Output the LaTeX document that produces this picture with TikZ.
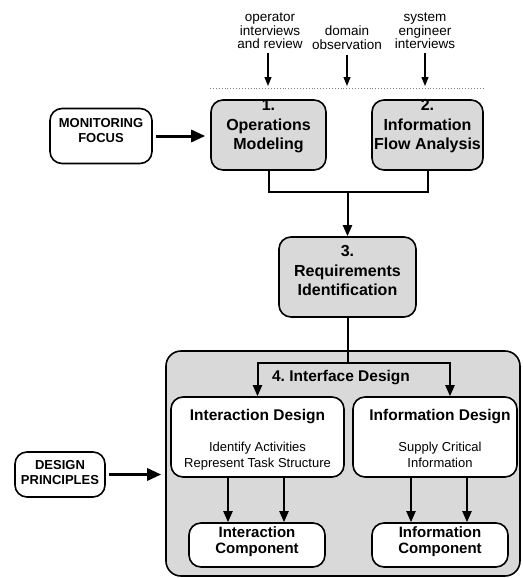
\documentclass[tikz,border=0pt]{standalone}
\usepackage{fontspec}
\setmainfont{Liberation Sans}
\usetikzlibrary{arrows.meta,calc}
\frenchspacing
\begin{document}
\begin{tikzpicture}[x=1pt,y=-1pt,
  box/.style={draw, line width=1.6pt, rounded corners=12pt, inner sep=0pt},
  graybox/.style={box, fill=gray!30},
  whitebox/.style={box, fill=white},
  gtext/.style={align=center, inner sep=0pt, font=\bfseries\fontsize{16}{19.5}\selectfont},
  ttext/.style={align=center, inner sep=0pt, font=\bfseries\fontsize{15.5}{18}\selectfont},
  stext/.style={align=center, inner sep=0pt, font=\fontsize{13}{15.5}\selectfont},
  ctext/.style={align=center, inner sep=0pt, font=\bfseries\fontsize{15}{16.5}\selectfont},
  sidetext/.style={align=center, inner sep=0pt, font=\bfseries\fontsize{13}{15}\selectfont},
  lab/.style={align=center, inner sep=0pt, font=\fontsize{13.5}{13.7}\selectfont},
  inarrow/.style={line width=1.1pt, -{Triangle[length=9pt,width=7pt]}},
  arr/.style={line width=2pt, -{Triangle[length=11pt,width=9pt]}},
  bigarr/.style={line width=3pt, -{Triangle[length=14pt,width=12pt]}},
  conn/.style={line width=2pt}
]
\useasboundingbox (0,0) rectangle (522,578);

% top input labels
\node[lab] (l1) at (270,31) {operator\\interviews\\and review};
\node[lab] (l2) at (347,37.5) {domain\\observation};
\node[lab] (l3) at (425,31) {system\\engineer\\interviews};
\coordinate (dl) at (210,88);
\coordinate (dr) at (483,88);
\draw[gray, dotted, line width=0.9pt] (dl) -- (dr);
\coordinate (d1) at (268,86);
\coordinate (d2) at (347,86);
\coordinate (d3) at (425,86);
\draw[inarrow] (d1 |- l1.south) ++(0,4) -- (d1);
\draw[inarrow] (d2 |- l2.south) ++(0,5) -- (d2);
\draw[inarrow] (d3 |- l3.south) ++(0,4) -- (d3);

% row 1
\node[whitebox, minimum width=102, minimum height=55] (mon) at (101,136) {};
\node[sidetext] (monT) at (101,130.5) {MONITORING\\FOCUS};
\node[graybox, minimum width=115, minimum height=70] (b1) at (268.5,135) {};
\node[gtext] (b1T) at (268.5,126.5) {1.\\Operations\\Modeling};
\node[graybox, minimum width=111, minimum height=70] (b2) at (427.5,135) {};
\node[gtext] (b2T) at (427.5,126.5) {2.\\Information\\Flow Analysis};
\draw[bigarr, shorten <=3pt, shorten >=5pt] (mon.east) -- (mon.east -| b1.west);

% requirements
\node[graybox, minimum width=137, minimum height=80] (b3) at (347.5,277) {};
\node[gtext] (b3T) at (347.5,270.5) {3.\\Requirements\\Identification};
\coordinate (j) at (347.5,192);
\draw[conn] (b1.south) |- (j) -| (b2.south);
\draw[arr] (j) -- (b3.north);

% interface design
\node[graybox, rounded corners=15pt, minimum width=354, minimum height=225] (big) at (343,463.5) {};
\node[ttext] (bigT) at (341,378) {4. Interface Design};
\node[whitebox, minimum width=173, minimum height=80] (intd) at (257.5,437) {};
\node[ttext] (intdT) at (257.5,417) {Interaction Design};
\node[stext] (intdS) at (257.5,456) {Identify Activities\\Represent Task Structure};
\node[whitebox, minimum width=164, minimum height=80] (infd) at (435,437) {};
\node[ttext] (infdT) at (440,417) {Information Design};
\node[stext] (infdS) at (440,455) {Supply Critical\\Information};
\node[whitebox, minimum width=136, minimum height=44] (icomp) at (257,545) {};
\node[ctext] (icompT) at (257,541.5) {Interaction\\Component};
\node[whitebox, minimum width=136, minimum height=44] (fcomp) at (440,545) {};
\node[ctext] (fcompT) at (440,541.5) {Information\\Component};

\coordinate (k) at (347.5,363);
\coordinate (k2) at (450,363);
\draw[conn] (b3.south) -- (k);
\draw[arr] (k) -| (intd.north);
\draw[arr] (k) -| (k2 |- infd.north);

\coordinate (ia) at ($(icomp.north)+(-29,0)$);
\coordinate (ib) at ($(icomp.north)+(27,0)$);
\coordinate (fa) at ($(fcomp.north)+(-29,0)$);
\coordinate (fb) at ($(fcomp.north)+(27,0)$);
\draw[arr] (ia |- intd.south) -- (ia);
\draw[arr] (ib |- intd.south) -- (ib);
\draw[arr] (fa |- infd.south) -- (fa);
\draw[arr] (fb |- infd.south) -- (fb);

% design principles
\node[whitebox, minimum width=90, minimum height=45] (dp) at (60,474.5) {};
\node[sidetext] (dpT) at (60,472.5) {DESIGN\\PRINCIPLES};
\draw[bigarr, shorten <=3pt, shorten >=4pt] (dp.east) -- (dp.east -| big.west);
\end{tikzpicture}
\end{document}
